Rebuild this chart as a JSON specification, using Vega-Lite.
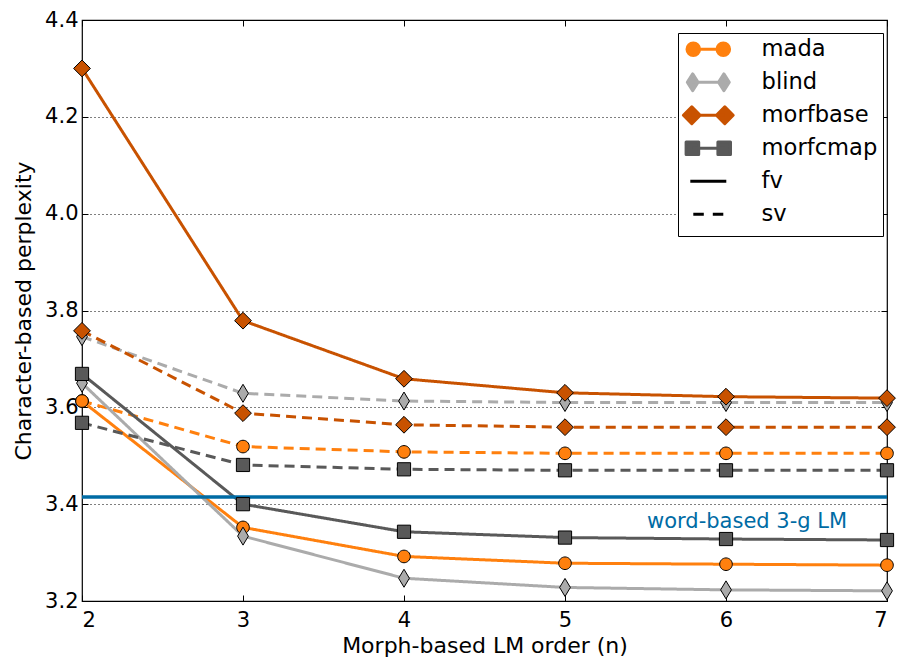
{
  "$schema": "https://vega.github.io/schema/vega-lite/v6.json",
  "width": 805,
  "height": 581,
  "autosize": "none",
  "padding": {"left": 82, "top": 20, "right": 10, "bottom": 61},
  "background": "white",
  "config": {
    "font": "DejaVu Sans",
    "view": {"stroke": "black", "strokeWidth": 1.2},
    "axis": {
      "labelFontSize": 21,
      "titleFontSize": 22,
      "titleFontWeight": "normal",
      "labelColor": "black",
      "titleColor": "black",
      "tickColor": "black",
      "domain": false,
      "tickSize": -6,
      "tickWidth": 1
    }
  },
  "datasets": {
    "series": [
      {"n": 2, "ppl": 3.613, "system": "mada", "variant": "fv"},
      {"n": 3, "ppl": 3.352, "system": "mada", "variant": "fv"},
      {"n": 4, "ppl": 3.292, "system": "mada", "variant": "fv"},
      {"n": 5, "ppl": 3.278, "system": "mada", "variant": "fv"},
      {"n": 6, "ppl": 3.276, "system": "mada", "variant": "fv"},
      {"n": 7, "ppl": 3.274, "system": "mada", "variant": "fv"},
      {"n": 2, "ppl": 3.613, "system": "mada", "variant": "sv"},
      {"n": 3, "ppl": 3.519, "system": "mada", "variant": "sv"},
      {"n": 4, "ppl": 3.508, "system": "mada", "variant": "sv"},
      {"n": 5, "ppl": 3.505, "system": "mada", "variant": "sv"},
      {"n": 6, "ppl": 3.505, "system": "mada", "variant": "sv"},
      {"n": 7, "ppl": 3.505, "system": "mada", "variant": "sv"},
      {"n": 2, "ppl": 3.650, "system": "blind", "variant": "fv"},
      {"n": 3, "ppl": 3.334, "system": "blind", "variant": "fv"},
      {"n": 4, "ppl": 3.247, "system": "blind", "variant": "fv"},
      {"n": 5, "ppl": 3.228, "system": "blind", "variant": "fv"},
      {"n": 6, "ppl": 3.223, "system": "blind", "variant": "fv"},
      {"n": 7, "ppl": 3.221, "system": "blind", "variant": "fv"},
      {"n": 2, "ppl": 3.746, "system": "blind", "variant": "sv"},
      {"n": 3, "ppl": 3.629, "system": "blind", "variant": "sv"},
      {"n": 4, "ppl": 3.613, "system": "blind", "variant": "sv"},
      {"n": 5, "ppl": 3.610, "system": "blind", "variant": "sv"},
      {"n": 6, "ppl": 3.610, "system": "blind", "variant": "sv"},
      {"n": 7, "ppl": 3.610, "system": "blind", "variant": "sv"},
      {"n": 2, "ppl": 4.300, "system": "morfbase", "variant": "fv"},
      {"n": 3, "ppl": 3.779, "system": "morfbase", "variant": "fv"},
      {"n": 4, "ppl": 3.659, "system": "morfbase", "variant": "fv"},
      {"n": 5, "ppl": 3.630, "system": "morfbase", "variant": "fv"},
      {"n": 6, "ppl": 3.622, "system": "morfbase", "variant": "fv"},
      {"n": 7, "ppl": 3.619, "system": "morfbase", "variant": "fv"},
      {"n": 2, "ppl": 3.758, "system": "morfbase", "variant": "sv"},
      {"n": 3, "ppl": 3.588, "system": "morfbase", "variant": "sv"},
      {"n": 4, "ppl": 3.564, "system": "morfbase", "variant": "sv"},
      {"n": 5, "ppl": 3.559, "system": "morfbase", "variant": "sv"},
      {"n": 6, "ppl": 3.559, "system": "morfbase", "variant": "sv"},
      {"n": 7, "ppl": 3.559, "system": "morfbase", "variant": "sv"},
      {"n": 2, "ppl": 3.669, "system": "morfcmap", "variant": "fv"},
      {"n": 3, "ppl": 3.400, "system": "morfcmap", "variant": "fv"},
      {"n": 4, "ppl": 3.343, "system": "morfcmap", "variant": "fv"},
      {"n": 5, "ppl": 3.331, "system": "morfcmap", "variant": "fv"},
      {"n": 6, "ppl": 3.328, "system": "morfcmap", "variant": "fv"},
      {"n": 7, "ppl": 3.326, "system": "morfcmap", "variant": "fv"},
      {"n": 2, "ppl": 3.568, "system": "morfcmap", "variant": "sv"},
      {"n": 3, "ppl": 3.481, "system": "morfcmap", "variant": "sv"},
      {"n": 4, "ppl": 3.472, "system": "morfcmap", "variant": "sv"},
      {"n": 5, "ppl": 3.470, "system": "morfcmap", "variant": "sv"},
      {"n": 6, "ppl": 3.470, "system": "morfcmap", "variant": "sv"},
      {"n": 7, "ppl": 3.470, "system": "morfcmap", "variant": "sv"}
    ],
    "baseline": [
      {"ppl": 3.415, "label": "word-based 3-g LM", "n": 6.752, "labelppl": 3.364}
    ]
  },
  "layer": [
    {
      "data": {"name": "series"},
      "mark": {"type": "line", "strokeWidth": 3},
      "encoding": {
        "x": {
          "field": "n", "type": "quantitative",
          "scale": {"domain": [2, 7], "nice": false, "zero": false},
          "axis": {"orient": "bottom", "values": [2, 3, 4, 5, 6, 7], "format": "d", "title": "Morph-based LM order (n)", "grid": false, "labelPadding": 14, "titlePadding": 5}
        },
        "y": {
          "field": "ppl", "type": "quantitative",
          "scale": {"domain": [3.2, 4.4], "nice": false, "zero": false},
          "axis": {"orient": "left", "values": [3.2, 3.4, 3.6, 3.8, 4.0, 4.2, 4.4], "format": ".1f", "title": "Character-based perplexity", "grid": true, "gridDash": [1, 3], "gridColor": "black", "gridOpacity": 1, "labelPadding": 10, "titlePadding": 9}
        },
        "color": {
          "field": "system", "type": "nominal",
          "scale": {"domain": ["mada", "blind", "morfbase", "morfcmap", "fv", "sv"], "range": ["#FF800E", "#ABABAB", "#C85200", "#595959", "#000000", "#000000"]},
          "legend": {
            "title": null,
            "orient": "none",
            "legendX": 596,
            "legendY": 13,
            "padding": 5,
            "rowPadding": 0,
            "strokeColor": "black",
            "fillColor": "white",
            "labelFontSize": 22.6,
            "labelColor": "black",
            "symbolSize": 144,
            "symbolStrokeWidth": 2.5,
            "symbolOffset": 14,
            "labelOffset": 42,
            "encode": {
              "symbols": {
                "update": {
                  "shape": {"signal": "'M0,-2.38M0,2.38' + (datum.value === 'mada' ? 'M-2.5,0H2.5M-1.45,0A1.05,1.05 0 1,1 -3.55,0A1.05,1.05 0 1,1 -1.45,0M3.55,0A1.05,1.05 0 1,1 1.45,0A1.05,1.05 0 1,1 3.55,0' : datum.value === 'blind' ? 'M-2.6,0H2.6M-2.6,-1.4L-1.7,0L-2.6,1.4L-3.5,0ZM2.6,-1.4L3.5,0L2.6,1.4L1.7,0Z' : datum.value === 'morfbase' ? 'M-2.75,0H2.75M-2.75,-1.4L-1.35,0L-2.75,1.4L-4.15,0ZM2.75,-1.4L4.15,0L2.75,1.4L1.35,0Z' : datum.value === 'morfcmap' ? 'M-2.65,0H2.65M-3.7,-1.05H-1.6V1.05H-3.7ZM1.6,-1.05H3.7V1.05H1.6Z' : datum.value === 'fv' ? 'M-3,0H3' : 'M-2.5,0H-0.75M0.75,0H2.5')"},
                  "fill": {"signal": "datum.value === 'mada' ? '#FF800E' : datum.value === 'blind' ? '#ABABAB' : datum.value === 'morfbase' ? '#C85200' : datum.value === 'morfcmap' ? '#595959' : 'transparent'"},
                  "stroke": {"signal": "datum.value === 'mada' ? '#FF800E' : datum.value === 'blind' ? '#ABABAB' : datum.value === 'morfbase' ? '#C85200' : datum.value === 'morfcmap' ? '#595959' : '#000000'"},
                  "strokeWidth": {"value": 3},
                  "strokeJoin": {"value": "round"},
                  "opacity": {"value": 1}
                }
              }
            }
          }
        },
        "strokeDash": {
          "field": "variant", "type": "nominal",
          "scale": {"domain": ["fv", "sv"], "range": [[1, 0], [10, 6]]},
          "legend": null
        }
      }
    },
    {
      "data": {"name": "baseline"},
      "mark": {"type": "rule", "color": "#006BA4", "strokeWidth": 3.5},
      "encoding": {
        "y": {"field": "ppl", "type": "quantitative", "axis": null}
      }
    },
    {
      "data": {"name": "baseline"},
      "mark": {"type": "text", "color": "#006BA4", "fontSize": 21, "align": "right", "baseline": "middle", "font": "DejaVu Sans"},
      "encoding": {
        "x": {"field": "n", "type": "quantitative", "axis": null},
        "y": {"field": "labelppl", "type": "quantitative", "axis": null},
        "text": {"field": "label"}
      }
    },
    {
      "data": {"name": "series"},
      "mark": {"type": "point", "filled": true, "stroke": "black", "strokeWidth": 1, "opacity": 1, "size": 144},
      "encoding": {
        "x": {
          "field": "n", "type": "quantitative",
          "axis": {"orient": "top", "values": [2, 3, 4, 5, 6, 7], "labels": false, "title": null, "grid": false}
        },
        "y": {
          "field": "ppl", "type": "quantitative",
          "axis": {"orient": "right", "values": [3.2, 3.4, 3.6, 3.8, 4.0, 4.2, 4.4], "labels": false, "title": null, "grid": false}
        },
        "color": {"field": "system", "type": "nominal"},
        "shape": {
          "field": "system", "type": "nominal",
          "scale": {"domain": ["mada", "blind", "morfbase", "morfcmap"], "range": ["M1.05,0A1.05,1.05 0 1,1 -1.05,0A1.05,1.05 0 1,1 1.05,0Z", "M0,-1.5L0.9,0L0,1.5L-0.9,0Z", "M0,-1.4L1.4,0L0,1.4L-1.4,0Z", "M-1.1,-1.1H1.1V1.1H-1.1Z"]},
          "legend": null
        }
      }
    }
  ],
  "resolve": {"axis": {"x": "independent", "y": "independent"}}
}
